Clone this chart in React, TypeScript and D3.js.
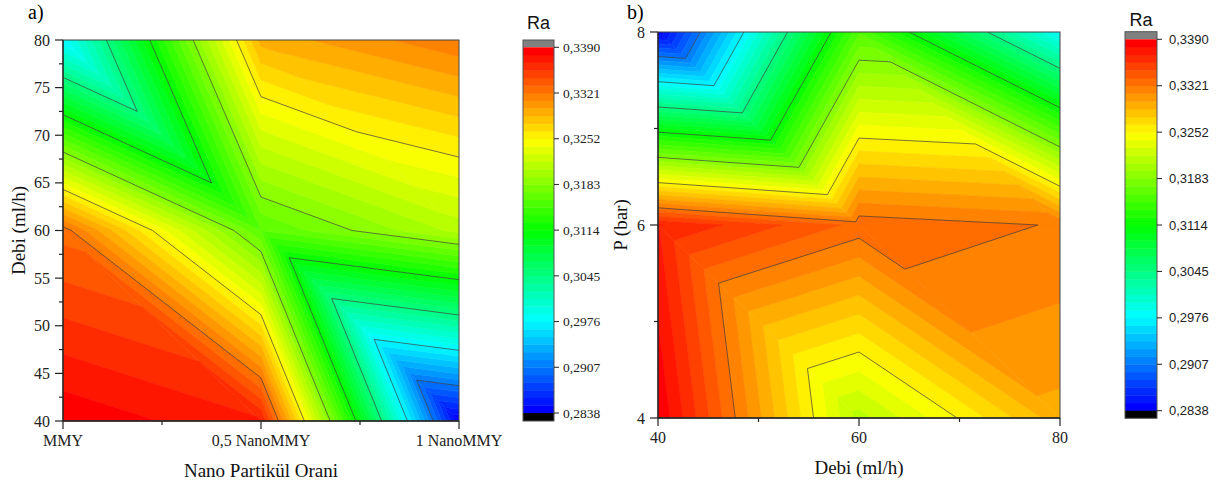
import React from "react";
import * as d3 from "d3";

// ---------- data ----------
const nanoLabels = ["MMY", "0,5 NanoMMY", "1 NanoMMY"];
const nanoValues = [0, 0.5, 1];
const debiValues = [40, 60, 80];
const pValues = [4, 6, 8];

// plot a: rows = Debi 40, 60, 80 ; columns = MMY, 0,5 NanoMMY, 1 NanoMMY
const raA_debi40 = [0.3388, 0.3368, 0.2838];
const raA_debi60 = [0.3328, 0.316, 0.321];
const raA_debi80 = [0.2976, 0.3291, 0.3319];

// plot b: rows = P 4, 6, 8 ; columns = Debi 40, 60, 80
const raB_p4 = [0.3389, 0.3212, 0.3294];
const raB_p6 = [0.3368, 0.3329, 0.332];
const raB_p8 = [0.284, 0.3158, 0.2981];

const levelValues = [0.2838, 0.2907, 0.2976, 0.3045, 0.3114, 0.3183, 0.3252, 0.3321, 0.339];
const levelLabels = ["0,2838", "0,2907", "0,2976", "0,3045", "0,3114", "0,3183", "0,3252", "0,3321", "0,3390"];
const bandsPerMajor = 6;

const debiTicksA = [40, 45, 50, 55, 60, 65, 70, 75, 80];
const debiMinorA = [42.5, 47.5, 52.5, 57.5, 62.5, 67.5, 72.5, 77.5];
const nanoMinor = [0.25, 0.75];
const pMinor = [5, 7];
const debiMinorB = [50, 70];

// ---------- helpers ----------
type P3 = [number, number, number];

const SERIF = "'Liberation Serif', 'Times New Roman', serif";
const SANS = "'Liberation Sans', Arial, sans-serif";

const nBands = (levelValues.length - 1) * bandsPerMajor;
const vMin = levelValues[0];
const vMax = levelValues[levelValues.length - 1];
const bandStep = (vMax - vMin) / nBands;
const bandLevels = d3.range(nBands + 1).map((k) => vMin + k * bandStep);

const palette = d3
  .scaleLinear<string>()
  .domain([0, 0.25, 0.5, 0.75, 1])
  .range(["#0000ff", "#00ffff", "#00ff00", "#ffff00", "#ff0000"])
  .interpolate(d3.interpolateRgb);
const bandColor = (k: number) => palette(k / (nBands - 1));

function clip(poly: P3[], level: number, keepAbove: boolean): P3[] {
  const out: P3[] = [];
  const inside = (p: P3) => (keepAbove ? p[2] >= level : p[2] <= level);
  for (let i = 0; i < poly.length; i++) {
    const a = poly[i];
    const b = poly[(i + 1) % poly.length];
    const ia = inside(a);
    const ib = inside(b);
    if (ia) out.push(a);
    if (ia !== ib) {
      const t = (level - a[2]) / (b[2] - a[2]);
      out.push([a[0] + t * (b[0] - a[0]), a[1] + t * (b[1] - a[1]), level]);
    }
  }
  return out;
}

function triangles(xs: number[], ys: number[], z: number[][]): P3[][] {
  const tris: P3[][] = [];
  for (let j = 0; j < ys.length - 1; j++) {
    for (let i = 0; i < xs.length - 1; i++) {
      const tl: P3 = [xs[i], ys[j + 1], z[j + 1][i]];
      const tr: P3 = [xs[i + 1], ys[j + 1], z[j + 1][i + 1]];
      const bl: P3 = [xs[i], ys[j], z[j][i]];
      const br: P3 = [xs[i + 1], ys[j], z[j][i + 1]];
      tris.push([tl, tr, br]);
      tris.push([tl, bl, br]);
    }
  }
  return tris;
}

function segment(tri: P3[], level: number): [number, number][] {
  const pts: [number, number][] = [];
  for (let i = 0; i < 3; i++) {
    const a = tri[i];
    const b = tri[(i + 1) % 3];
    if ((a[2] - level) * (b[2] - level) < 0) {
      const t = (level - a[2]) / (b[2] - a[2]);
      pts.push([a[0] + t * (b[0] - a[0]), a[1] + t * (b[1] - a[1])]);
    }
  }
  return pts;
}

interface Box {
  left: number;
  right: number;
  top: number;
  bottom: number;
}

function ContourField({ id, xs, ys, z, box }: { id: string; xs: number[]; ys: number[]; z: number[][]; box: Box }) {
  const x = d3.scaleLinear().domain([xs[0], xs[xs.length - 1]]).range([box.left, box.right]);
  const y = d3.scaleLinear().domain([ys[0], ys[ys.length - 1]]).range([box.bottom, box.top]);
  const tris = triangles(xs, ys, z);
  const line = d3.line<[number, number]>().x((d) => x(d[0])).y((d) => y(d[1]));
  const fills: React.ReactNode[] = [];
  tris.forEach((tri, ti) => {
    for (let k = 0; k < nBands; k++) {
      let poly = clip(tri, bandLevels[k], true);
      if (poly.length < 3) continue;
      poly = clip(poly, bandLevels[k + 1], false);
      if (poly.length < 3) continue;
      const d = line(poly.map((p) => [p[0], p[1]] as [number, number])) + "Z";
      const c = bandColor(k);
      fills.push(<path key={`f${ti}-${k}`} d={d} fill={c} stroke={c} strokeWidth={0.6} strokeLinejoin="round" />);
    }
  });
  const lines: React.ReactNode[] = [];
  tris.forEach((tri, ti) => {
    levelValues.slice(1, -1).forEach((lv, li) => {
      const s = segment(tri, lv);
      if (s.length === 2) {
        lines.push(<path key={`l${ti}-${li}`} d={line(s) || ""} fill="none" stroke="#3a3a3a" strokeWidth={0.8} strokeOpacity={0.85} />);
      }
    });
  });
  return (
    <g>
      <defs>
        <clipPath id={id}>
          <rect x={box.left} y={box.top} width={box.right - box.left} height={box.bottom - box.top} />
        </clipPath>
      </defs>
      <g clipPath={`url(#${id})`}>
        {fills}
        {lines}
      </g>
      <rect x={box.left} y={box.top} width={box.right - box.left} height={box.bottom - box.top} fill="none" stroke="#444" strokeWidth={1} />
    </g>
  );
}

function ColorBar({ x0, w, top, bandTop, bandBottom, bottom, labelFont, labelSize, labelDx, titleBaseline }: any) {
  const s = d3.scaleLinear().domain([vMin, vMax]).range([bandBottom, bandTop]);
  return (
    <g>
      <rect x={x0} y={top} width={w} height={bandTop - top} fill="#808080" />
      {d3.range(nBands).map((k) => (
        <rect key={k} x={x0} y={s(bandLevels[k + 1])} width={w} height={s(bandLevels[k]) - s(bandLevels[k + 1]) + 0.4} fill={bandColor(k)} />
      ))}
      <rect x={x0} y={bandBottom} width={w} height={bottom - bandBottom} fill="#000" />
      <rect x={x0} y={top} width={w} height={bottom - top} fill="none" stroke="#555" strokeWidth={1} />
      {levelValues.map((v, i) => (
        <g key={i}>
          <line x1={x0 + w} x2={x0 + w + 5} y1={s(v)} y2={s(v)} stroke="#222" strokeWidth={1} />
          <text x={x0 + w + labelDx} y={s(v)} dy="0.35em" fontFamily={labelFont} fontSize={labelSize} fill="#222">
            {levelLabels[i]}
          </text>
        </g>
      ))}
      <text x={x0 + w / 2} y={titleBaseline} textAnchor="middle" fontFamily={SANS} fontSize={18} fill="#111">
        Ra
      </text>
    </g>
  );
}

export default function App() {
  const boxA: Box = { left: 63, right: 459, top: 40, bottom: 421 };
  const boxB: Box = { left: 658, right: 1060, top: 32, bottom: 418 };
  const zA = [raA_debi40, raA_debi60, raA_debi80];
  const zB = [raB_p4, raB_p6, raB_p8];

  const xa = d3.scaleLinear().domain([0, 1]).range([boxA.left, boxA.right]);
  const ya = d3.scaleLinear().domain([40, 80]).range([boxA.bottom, boxA.top]);
  const xb = d3.scaleLinear().domain([40, 80]).range([boxB.left, boxB.right]);
  const yb = d3.scaleLinear().domain([4, 8]).range([boxB.bottom, boxB.top]);

  const axisColor = "#222";
  const tickFont = 16;

  return (
    <svg width={1222} height={488} style={{ position: "absolute", left: 0, top: 0, background: "#fff" }}>
      <rect width={1222} height={488} fill="#fff" />
      {/* ---------- plot a ---------- */}
      <text x={28} y={19} fontFamily={SERIF} fontSize={20} fill="#000">a)</text>
      <ContourField id="clipA" xs={nanoValues} ys={debiValues} z={zA} box={boxA} />
      <line x1={boxA.left} x2={boxA.left} y1={boxA.top} y2={boxA.bottom} stroke={axisColor} strokeWidth={1.3} />
      <line x1={boxA.left} x2={boxA.right} y1={boxA.bottom} y2={boxA.bottom} stroke={axisColor} strokeWidth={1.3} />
      {debiTicksA.map((v) => (
        <g key={v}>
          <line x1={boxA.left - 8} x2={boxA.left} y1={ya(v)} y2={ya(v)} stroke={axisColor} strokeWidth={1.2} />
          <text x={boxA.left - 13} y={ya(v)} dy="0.35em" textAnchor="end" fontFamily={SERIF} fontSize={tickFont} fill="#222">{v}</text>
        </g>
      ))}
      {debiMinorA.map((v) => (
        <line key={v} x1={boxA.left - 4} x2={boxA.left} y1={ya(v)} y2={ya(v)} stroke={axisColor} strokeWidth={1.2} />
      ))}
      {nanoValues.map((v, i) => (
        <g key={v}>
          <line x1={xa(v)} x2={xa(v)} y1={boxA.bottom} y2={boxA.bottom + 8} stroke={axisColor} strokeWidth={1.2} />
          <text x={xa(v)} y={446} textAnchor="middle" fontFamily={SERIF} fontSize={tickFont} fill="#222">{nanoLabels[i]}</text>
        </g>
      ))}
      {nanoMinor.map((v) => (
        <line key={v} x1={xa(v)} x2={xa(v)} y1={boxA.bottom} y2={boxA.bottom + 4} stroke={axisColor} strokeWidth={1.2} />
      ))}
      <text x={(boxA.left + boxA.right) / 2} y={477} textAnchor="middle" fontFamily={SERIF} fontSize={19} fill="#111">Nano Partikül Orani</text>
      <text transform={`translate(25,${(boxA.top + boxA.bottom) / 2}) rotate(-90)`} textAnchor="middle" fontFamily={SERIF} fontSize={19} fill="#111">Debi (ml/h)</text>
      <ColorBar x0={523} w={31} top={40} bandTop={47.3} bandBottom={413} bottom={421} labelFont={SERIF} labelSize={13.5} labelDx={9} titleBaseline={29} />

      {/* ---------- plot b ---------- */}
      <text x={627} y={19} fontFamily={SERIF} fontSize={20} fill="#000">b)</text>
      <ContourField id="clipB" xs={debiValues} ys={pValues} z={zB} box={boxB} />
      <line x1={boxB.left} x2={boxB.left} y1={boxB.top} y2={boxB.bottom} stroke={axisColor} strokeWidth={1.3} />
      <line x1={boxB.left} x2={boxB.right} y1={boxB.bottom} y2={boxB.bottom} stroke={axisColor} strokeWidth={1.3} />
      {pValues.map((v) => (
        <g key={v}>
          <line x1={boxB.left - 8} x2={boxB.left} y1={yb(v)} y2={yb(v)} stroke={axisColor} strokeWidth={1.2} />
          <text x={boxB.left - 13} y={yb(v)} dy="0.35em" textAnchor="end" fontFamily={SERIF} fontSize={tickFont} fill="#222">{v}</text>
        </g>
      ))}
      {pMinor.map((v) => (
        <line key={v} x1={boxB.left - 4} x2={boxB.left} y1={yb(v)} y2={yb(v)} stroke={axisColor} strokeWidth={1.2} />
      ))}
      {debiValues.map((v) => (
        <g key={v}>
          <line x1={xb(v)} x2={xb(v)} y1={boxB.bottom} y2={boxB.bottom + 8} stroke={axisColor} strokeWidth={1.2} />
          <text x={xb(v)} y={443} textAnchor="middle" fontFamily={SERIF} fontSize={tickFont} fill="#222">{v}</text>
        </g>
      ))}
      {debiMinorB.map((v) => (
        <line key={v} x1={xb(v)} x2={xb(v)} y1={boxB.bottom} y2={boxB.bottom + 4} stroke={axisColor} strokeWidth={1.2} />
      ))}
      <text x={(boxB.left + boxB.right) / 2} y={474} textAnchor="middle" fontFamily={SERIF} fontSize={19} fill="#111">Debi (ml/h)</text>
      <text transform={`translate(627,${(boxB.top + boxB.bottom) / 2}) rotate(-90)`} textAnchor="middle" fontFamily={SERIF} fontSize={19} fill="#111">P (bar)</text>
      <ColorBar x0={1125} w={32} top={31.7} bandTop={39.3} bandBottom={410.7} bottom={418.3} labelFont={SANS} labelSize={13} labelDx={12} titleBaseline={26} />
    </svg>
  );
}
